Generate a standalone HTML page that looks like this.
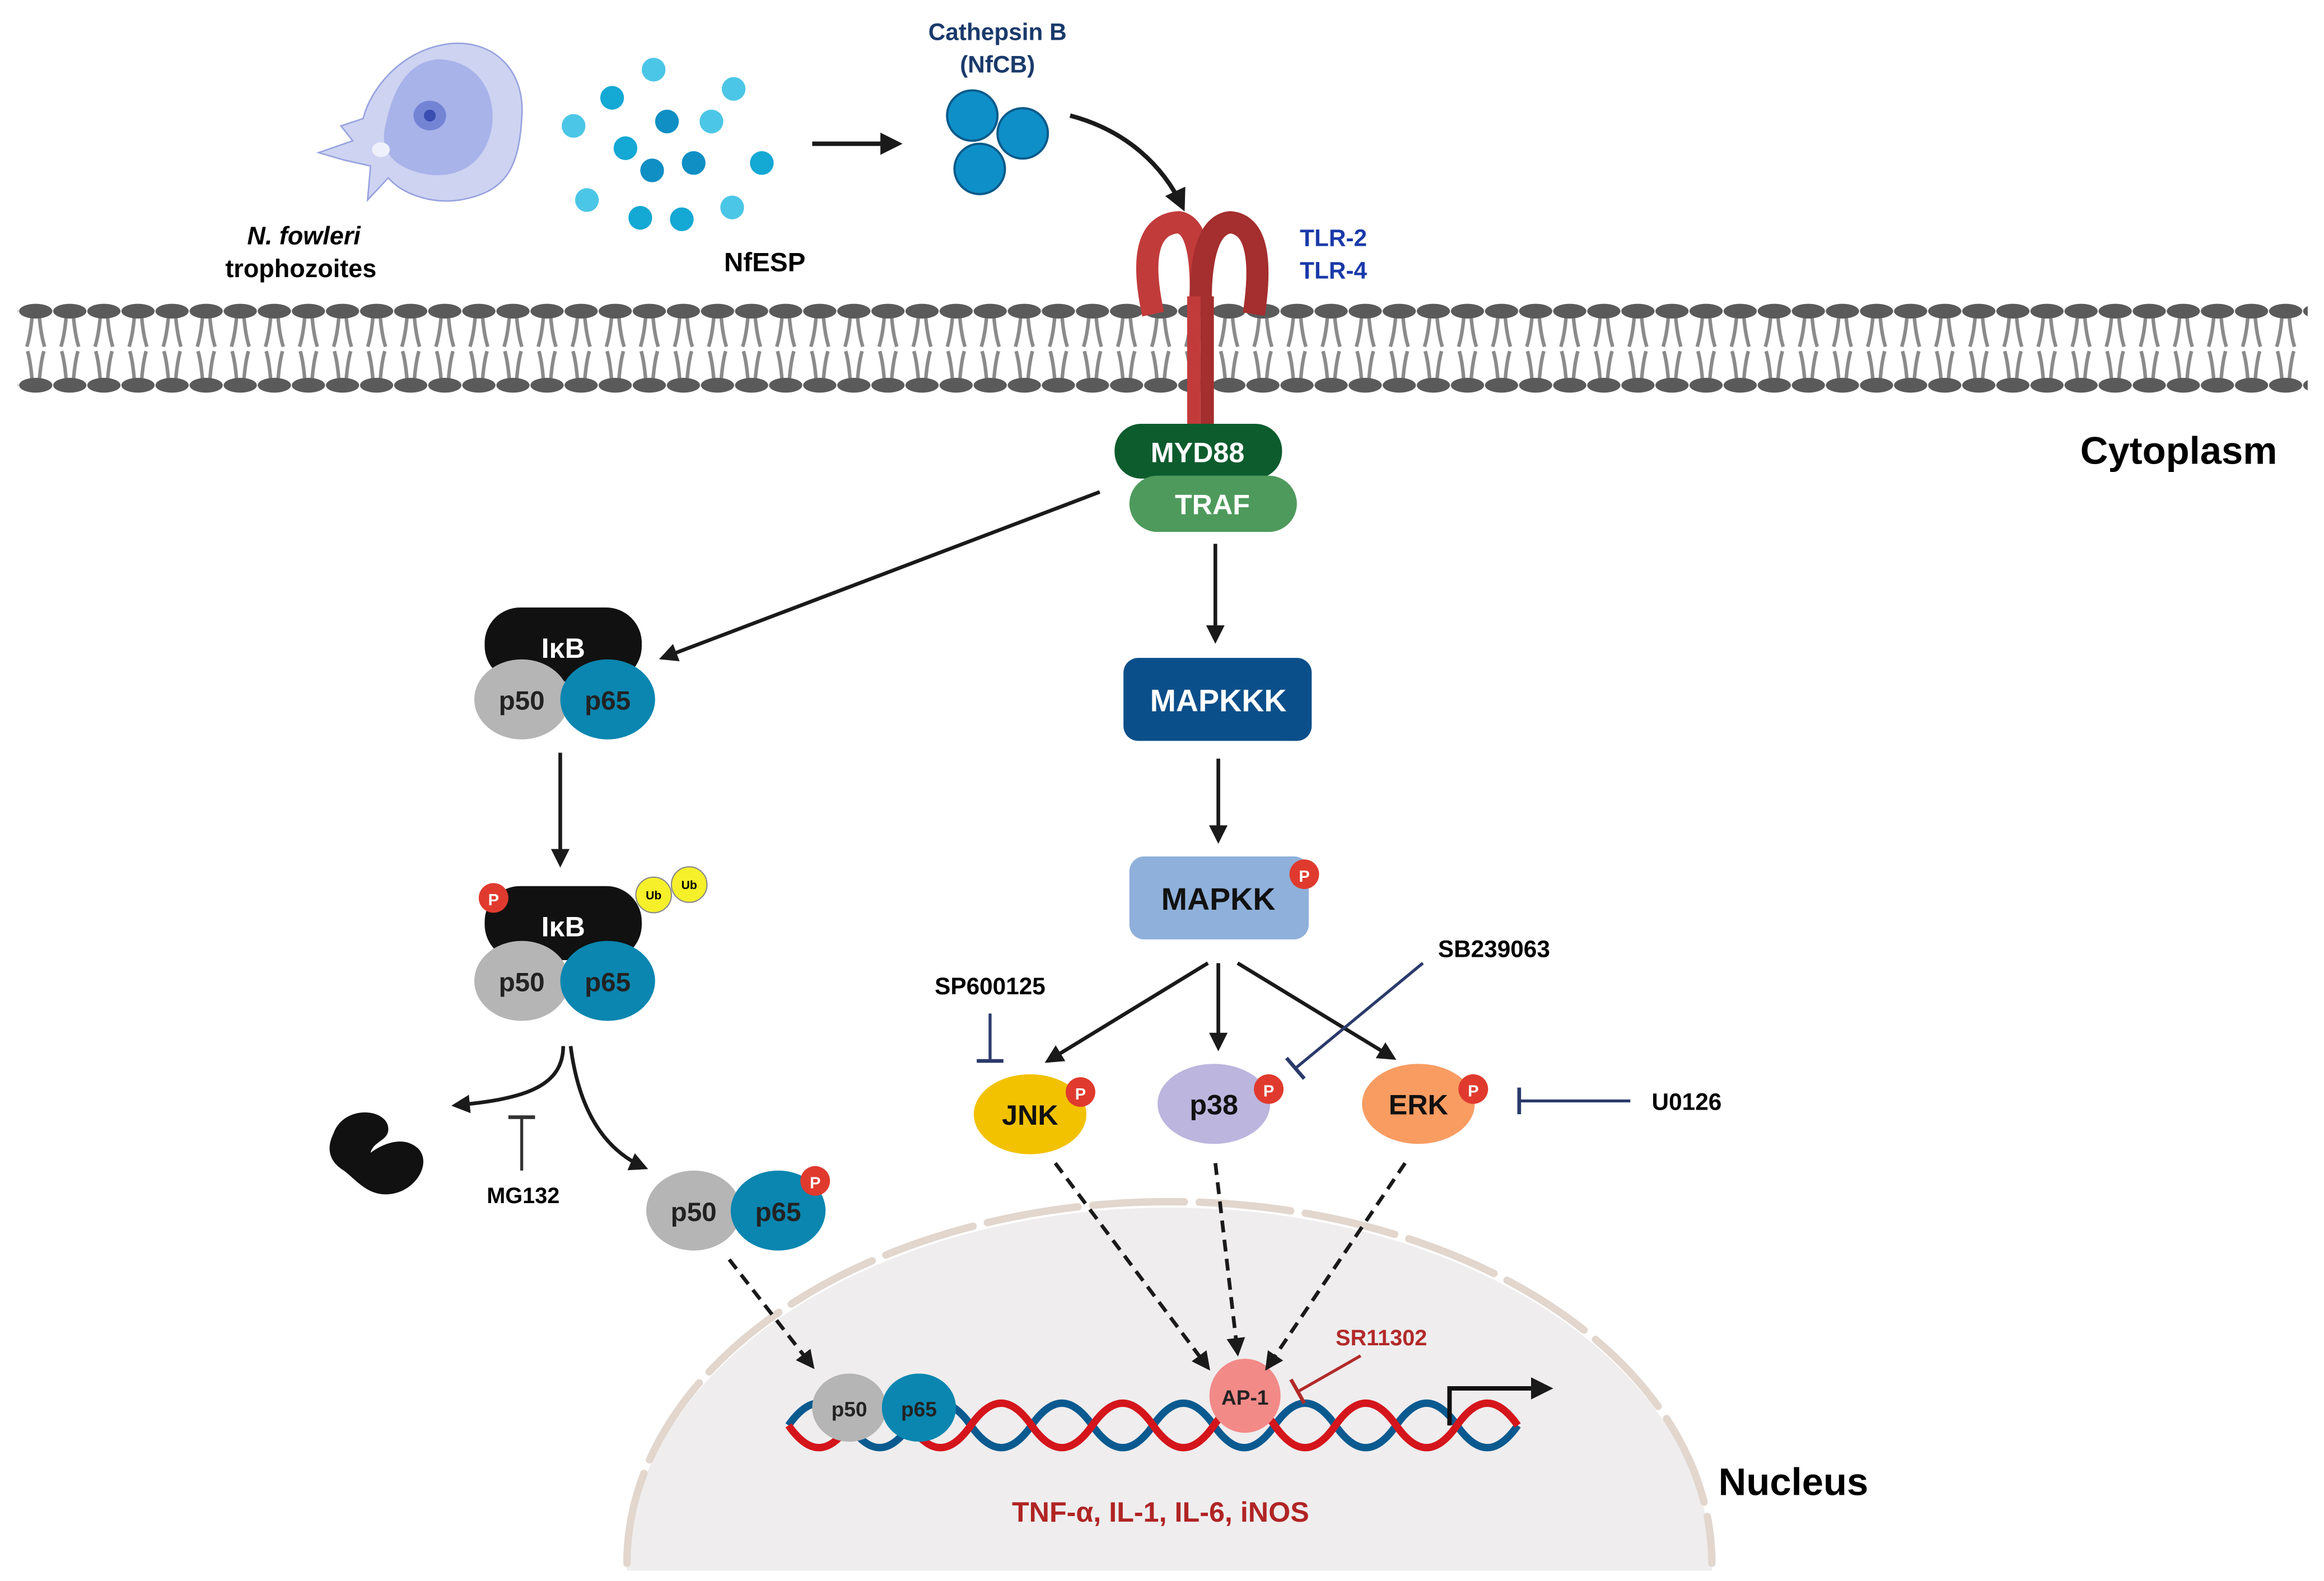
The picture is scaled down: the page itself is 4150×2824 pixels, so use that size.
<!DOCTYPE html>
<html><head><meta charset="utf-8"><style>
html,body{margin:0;padding:0;background:#fff;}
svg{display:block;}
text{font-family:"Liberation Sans",sans-serif;font-weight:bold;}
</style></head><body>
<svg width="4150" height="2824" viewBox="0 0 1568 1067" preserveAspectRatio="none" xmlns="http://www.w3.org/2000/svg">
<defs>
<marker id="ah" viewBox="0 0 10 10" refX="8" refY="5" markerWidth="5" markerHeight="5" orient="auto"><path d="M0,0 L10,5 L0,10 Z" fill="#1a1a1a"/></marker>
<pattern id="heads" x="12.6" y="0" width="23" height="1067" patternUnits="userSpaceOnUse">
<path d="M9,214 Q8,226 5.5,234 M14,214 Q15,226 17.5,234 M9,256 Q8,244 6,237 M14,256 Q15,244 17,237" stroke="#8a8a8a" stroke-width="2.4" fill="none"/>
<ellipse cx="11.5" cy="210" rx="11.2" ry="5" fill="#5a5a5a"/>
<ellipse cx="11.5" cy="260" rx="11.2" ry="5" fill="#5a5a5a"/>
</pattern>
</defs>
<rect width="1568" height="1067" fill="#fff"/>

<path d="M300,30 C330,25 355,45 352,80 C350,115 340,130 310,135 C290,138 270,130 262,120 L248,135 L250,112 L232,108 L215,103 L238,95 L230,85 L245,80 C250,60 270,35 300,30 Z" fill="#cdd3f1" stroke="#97a2de" stroke-width="1"/>
<path d="M295,40 C320,40 335,60 332,85 C328,110 310,120 290,118 C270,115 255,105 260,85 C265,60 275,42 295,40 Z" fill="#a8b3ea"/>
<ellipse cx="290" cy="78" rx="11" ry="10" fill="#7384d4"/>
<ellipse cx="290" cy="78" rx="4" ry="4" fill="#3a4db0"/>
<ellipse cx="257" cy="101" rx="6" ry="5" fill="#eef0fb"/>

<text x="205" y="165" font-size="17" font-style="italic" text-anchor="middle">N. fowleri</text>
<text x="203" y="187" font-size="17" text-anchor="middle">trophozoites</text>

<g>
<circle cx="441" cy="47" r="8" fill="#4cc6e6"/>
<circle cx="495" cy="60" r="8" fill="#4cc6e6"/>
<circle cx="413" cy="66" r="8" fill="#14a8d4"/>
<circle cx="387" cy="85" r="8" fill="#4cc6e6"/>
<circle cx="450" cy="82" r="8" fill="#0f8fc4"/>
<circle cx="480" cy="82" r="8" fill="#4cc6e6"/>
<circle cx="422" cy="100" r="8" fill="#14a8d4"/>
<circle cx="440" cy="115" r="8" fill="#0f8fc4"/>
<circle cx="468" cy="110" r="8" fill="#0f8fc4"/>
<circle cx="514" cy="110" r="8" fill="#14a8d4"/>
<circle cx="396" cy="135" r="8" fill="#4cc6e6"/>
<circle cx="432" cy="147" r="8" fill="#14a8d4"/>
<circle cx="460" cy="148" r="8" fill="#14a8d4"/>
<circle cx="494" cy="140" r="8" fill="#4cc6e6"/>
</g>
<text x="516" y="183" font-size="18" text-anchor="middle">NfESP</text>

<line x1="548" y1="97" x2="606" y2="97" stroke="#1a1a1a" stroke-width="3" marker-end="url(#ah)"/>

<text x="673" y="27" font-size="16" fill="#1a3a6b" text-anchor="middle">Cathepsin B</text>
<text x="673" y="49" font-size="16" fill="#1a3a6b" text-anchor="middle">(NfCB)</text>
<circle cx="656" cy="78" r="17" fill="#0f8fc8" stroke="#0a5a8a" stroke-width="1.5"/>
<circle cx="690" cy="90" r="17" fill="#0f8fc8" stroke="#0a5a8a" stroke-width="1.5"/>
<circle cx="661" cy="114" r="17" fill="#0f8fc8" stroke="#0a5a8a" stroke-width="1.5"/>
<path d="M722,78 C760,88 785,112 798,140" stroke="#1a1a1a" stroke-width="3" fill="none" marker-end="url(#ah)"/>

<text x="877" y="166" font-size="16" fill="#1a3aa8">TLR-2</text>
<text x="877" y="188" font-size="16" fill="#1a3aa8">TLR-4</text>

<rect x="12" y="200" width="1545" height="70" fill="url(#heads)"/>

<path d="M778,212 Q765,152 795,150 Q812,152 810,205" stroke="#c23b3b" stroke-width="15" fill="none"/>
<path d="M810,205 Q810,152 830,150 Q855,152 846,212" stroke="#a52e2e" stroke-width="15" fill="none"/>
<rect x="801" y="200" width="9" height="110" fill="#c23b3b"/>
<rect x="810" y="200" width="9" height="110" fill="#a52e2e"/>

<rect x="752" y="286" width="113" height="37" rx="18" fill="#0d5c2e"/>
<text x="808" y="312" font-size="19" fill="#fff" text-anchor="middle">MYD88</text>
<rect x="762" y="321" width="113" height="38" rx="19" fill="#4e9a5c"/>
<text x="818" y="347" font-size="19" fill="#fff" text-anchor="middle">TRAF</text>

<text x="1470" y="313" font-size="26" text-anchor="middle">Cytoplasm</text>

<line x1="742" y1="332" x2="447" y2="444" stroke="#1a1a1a" stroke-width="2.5" marker-end="url(#ah)"/>
<line x1="820" y1="367" x2="820" y2="432" stroke="#1a1a1a" stroke-width="2.5" marker-end="url(#ah)"/>

<rect x="327" y="410" width="106" height="50" rx="24" fill="#111"/>
<text x="380" y="444" font-size="19" fill="#fff" text-anchor="middle">IκB</text>
<ellipse cx="352" cy="472" rx="32" ry="27" fill="#b5b5b5"/>
<ellipse cx="410" cy="472" rx="32" ry="27" fill="#0a86b0"/>
<text x="352" y="479" font-size="18" fill="#222" text-anchor="middle">p50</text>
<text x="410" y="479" font-size="18" fill="#222" text-anchor="middle">p65</text>

<line x1="378" y1="508" x2="378" y2="583" stroke="#1a1a1a" stroke-width="2.5" marker-end="url(#ah)"/>

<rect x="327" y="598" width="106" height="50" rx="24" fill="#111"/>
<text x="380" y="632" font-size="19" fill="#fff" text-anchor="middle">IκB</text>
<ellipse cx="352" cy="662" rx="32" ry="27" fill="#b5b5b5"/>
<ellipse cx="410" cy="662" rx="32" ry="27" fill="#0a86b0"/>
<text x="352" y="669" font-size="18" fill="#222" text-anchor="middle">p50</text>
<text x="410" y="669" font-size="18" fill="#222" text-anchor="middle">p65</text>
<circle cx="333" cy="606" r="10" fill="#e03a2e"/><text x="333" y="611" font-size="11" fill="#fff" text-anchor="middle">P</text>
<circle cx="441" cy="604" r="12" fill="#f5f02a" stroke="#888" stroke-width="0.8"/><text x="441" y="607" font-size="8" text-anchor="middle">Ub</text>
<circle cx="465" cy="597" r="12" fill="#f5f02a" stroke="#888" stroke-width="0.8"/><text x="465" y="600" font-size="8" text-anchor="middle">Ub</text>

<path d="M380,706 C380,735 350,742 307,746" stroke="#1a1a1a" stroke-width="2.5" fill="none" marker-end="url(#ah)"/>
<path d="M385,706 C390,745 405,775 435,788" stroke="#1a1a1a" stroke-width="2.5" fill="none" marker-end="url(#ah)"/>

<path d="M225,765 C232,745 262,748 262,762 C262,770 252,770 250,778 C258,772 272,766 282,775 C292,785 280,805 262,806 C248,807 240,796 232,790 C222,784 220,775 225,765 Z" fill="#111"/>
<line x1="352" y1="790" x2="352" y2="754" stroke="#333" stroke-width="2"/>
<line x1="343" y1="754" x2="361" y2="754" stroke="#333" stroke-width="2.5"/>
<text x="353" y="812" font-size="15" text-anchor="middle">MG132</text>

<ellipse cx="468" cy="817" rx="32" ry="27" fill="#b5b5b5"/>
<ellipse cx="525" cy="817" rx="32" ry="27" fill="#0a86b0"/>
<text x="468" y="824" font-size="18" fill="#222" text-anchor="middle">p50</text>
<text x="525" y="824" font-size="18" fill="#222" text-anchor="middle">p65</text>
<circle cx="550" cy="797" r="10" fill="#e03a2e"/><text x="550" y="802" font-size="11" fill="#fff" text-anchor="middle">P</text>

<path d="M423,1060 A366,245 0 0 1 1155,1060 Z" fill="#efedee"/>
<path d="M423,1055 A366,244 0 0 1 1155,1055" stroke="#e2d6cd" stroke-width="5" fill="none" stroke-dasharray="62,10" stroke-linecap="round"/>

<line x1="492" y1="850" x2="548" y2="922" stroke="#1a1a1a" stroke-width="2.5" stroke-dasharray="8,5" marker-end="url(#ah)"/>

<path d="M532,962 C546,942 559,942 573,962 C587,982 600,982 614,962 C628,942 641,942 655,962 C669,982 682,982 696,962 C710,942 723,942 737,962 C751,982 764,982 778,962 C792,942 805,942 819,962 C833,982 846,982 860,962 C874,942 887,942 901,962 C915,982 928,982 942,962 C956,942 969,942 983,962 C997,982 1010,982 1024,962" stroke="#0a5a90" stroke-width="5" fill="none"/>
<path d="M532,962 C546,982 559,982 573,962 C587,942 600,942 614,962 C628,982 641,982 655,962 C669,942 682,942 696,962 C710,982 723,982 737,962 C751,942 764,942 778,962 C792,982 805,982 819,962 C833,942 846,942 860,962 C874,982 887,982 901,962 C915,942 928,942 942,962 C956,982 969,982 983,962 C997,942 1010,942 1024,962" stroke="#d4151b" stroke-width="5" fill="none"/>

<ellipse cx="573" cy="950" rx="25" ry="23" fill="#b5b5b5"/>
<ellipse cx="620" cy="950" rx="25" ry="23" fill="#0a86b0"/>
<text x="573" y="956" font-size="14" fill="#222" text-anchor="middle">p50</text>
<text x="620" y="956" font-size="14" fill="#222" text-anchor="middle">p65</text>

<ellipse cx="840" cy="942" rx="24" ry="25" fill="#f28a88"/>
<text x="840" y="948" font-size="14" fill="#222" text-anchor="middle">AP-1</text>
<text x="932" y="908" font-size="15" fill="#b22a2a" text-anchor="middle">SR11302</text>
<line x1="918" y1="915" x2="876" y2="939" stroke="#b22a2a" stroke-width="2"/>
<line x1="871" y1="931" x2="880" y2="947" stroke="#b22a2a" stroke-width="2.5"/>

<path d="M978,962 L978,937 L1045,937" stroke="#111" stroke-width="3" fill="none" marker-end="url(#ah)"/>

<text x="783" y="1027" font-size="19" fill="#b02424" text-anchor="middle">TNF-α, IL-1, IL-6, iNOS</text>
<text x="1210" y="1009" font-size="26" text-anchor="middle">Nucleus</text>

<rect x="758" y="444" width="127" height="56" rx="10" fill="#0b4f8a"/>
<text x="822" y="480" font-size="21" fill="#fff" text-anchor="middle">MAPKKK</text>
<line x1="822" y1="512" x2="822" y2="567" stroke="#1a1a1a" stroke-width="2.5" marker-end="url(#ah)"/>
<rect x="762" y="578" width="121" height="56" rx="10" fill="#8fb0da"/>
<text x="822" y="614" font-size="21" fill="#111" text-anchor="middle">MAPKK</text>
<circle cx="880" cy="590" r="10" fill="#e03a2e"/><text x="880" y="595" font-size="11" fill="#fff" text-anchor="middle">P</text>

<line x1="815" y1="650" x2="707" y2="716" stroke="#1a1a1a" stroke-width="2.5" marker-end="url(#ah)"/>
<line x1="822" y1="650" x2="822" y2="707" stroke="#1a1a1a" stroke-width="2.5" marker-end="url(#ah)"/>
<line x1="835" y1="650" x2="940" y2="714" stroke="#1a1a1a" stroke-width="2.5" marker-end="url(#ah)"/>

<ellipse cx="695" cy="752" rx="38" ry="27" fill="#f2c200"/>
<text x="695" y="759" font-size="19" fill="#111" text-anchor="middle">JNK</text>
<circle cx="729" cy="737" r="10" fill="#e03a2e"/><text x="729" y="742" font-size="11" fill="#fff" text-anchor="middle">P</text>
<ellipse cx="819" cy="745" rx="38" ry="27" fill="#bcb5de"/>
<text x="819" y="752" font-size="19" fill="#111" text-anchor="middle">p38</text>
<circle cx="856" cy="735" r="10" fill="#e03a2e"/><text x="856" y="740" font-size="11" fill="#fff" text-anchor="middle">P</text>
<ellipse cx="957" cy="745" rx="38" ry="27" fill="#f89c62"/>
<text x="957" y="752" font-size="19" fill="#111" text-anchor="middle">ERK</text>
<circle cx="994" cy="735" r="10" fill="#e03a2e"/><text x="994" y="740" font-size="11" fill="#fff" text-anchor="middle">P</text>

<text x="668" y="671" font-size="16" text-anchor="middle">SP600125</text>
<line x1="668" y1="684" x2="668" y2="716" stroke="#2a3a6b" stroke-width="2"/>
<line x1="659" y1="716" x2="677" y2="716" stroke="#2a3a6b" stroke-width="2.5"/>
<text x="1008" y="646" font-size="16" text-anchor="middle">SB239063</text>
<line x1="960" y1="650" x2="874" y2="721" stroke="#2a3a6b" stroke-width="2"/>
<line x1="868" y1="714" x2="880" y2="728" stroke="#2a3a6b" stroke-width="2.5"/>
<text x="1138" y="749" font-size="16" text-anchor="middle">U0126</text>
<line x1="1100" y1="743" x2="1025" y2="743" stroke="#2a3a6b" stroke-width="2"/>
<line x1="1025" y1="734" x2="1025" y2="752" stroke="#2a3a6b" stroke-width="2.5"/>

<line x1="712" y1="785" x2="815" y2="923" stroke="#1a1a1a" stroke-width="2.5" stroke-dasharray="8,5" marker-end="url(#ah)"/>
<line x1="820" y1="785" x2="835" y2="913" stroke="#1a1a1a" stroke-width="2.5" stroke-dasharray="8,5" marker-end="url(#ah)"/>
<line x1="948" y1="785" x2="855" y2="923" stroke="#1a1a1a" stroke-width="2.5" stroke-dasharray="8,5" marker-end="url(#ah)"/>
</svg>
</body></html>
